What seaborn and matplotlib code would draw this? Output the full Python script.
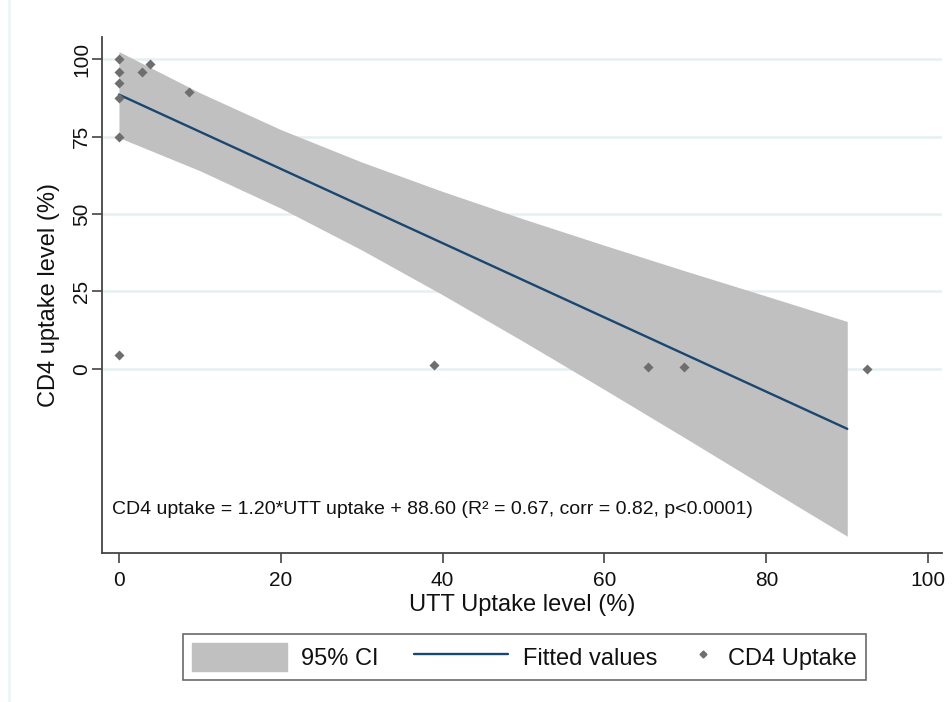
import numpy as np
import pandas as pd
import matplotlib
matplotlib.use("Agg")
import matplotlib.pyplot as plt
import seaborn as sns
from matplotlib.patches import Patch
from matplotlib.lines import Line2D
from matplotlib.legend_handler import HandlerLine2D

utt_uptake = [0.0, 0.0, 0.0, 0.0, 0.0, 2.8, 3.8, 8.7, 0.0, 38.9, 65.4, 69.8, 92.5]
cd4_uptake = [100.2, 95.9, 92.4, 87.6, 74.9, 96.0, 98.4, 89.5, 4.5, 1.3, 0.65, 0.65, 0.1]

# fitted line and 95% CI band, read at x = 0, 10, ..., 90
fit_x = [0, 10, 20, 30, 40, 50, 60, 70, 80, 90]
fit_y = [88.6, 76.6, 64.6, 52.6, 40.6, 28.6, 16.6, 4.6, -7.4, -19.4]
ci_upper = [102.5, 89.2, 77.3, 66.8, 57.3, 48.4, 39.9, 31.6, 23.5, 15.3]
ci_lower = [74.7, 64.0, 51.9, 38.4, 23.9, 8.8, -6.7, -22.4, -38.3, -54.1]

y_ticks = [0, 25, 50, 75, 100]
x_ticks = [0, 20, 40, 60, 80, 100]

note = "CD4 uptake = 1.20*UTT uptake + 88.60 (R\u00b2 = 0.67, corr = 0.82, p<0.0001)"

pts = pd.DataFrame({"utt": utt_uptake, "cd4": cd4_uptake})
fit = pd.DataFrame({"x": fit_x, "y": fit_y, "lo": ci_lower, "hi": ci_upper})

sns.set_style("white")
plt.rcParams["font.family"] = ["Liberation Sans", "DejaVu Sans"]

navy = "#1a476f"
band = "#c0c0c0"
mark = "#6e6e6e"
axc = "#444444"
txt = "#111111"


class NarrowMarker(HandlerLine2D):
    # the point key in the legend is much narrower than the other keys
    def legend_artist(self, legend, orig_handle, fontsize, handlebox):
        handlebox.width = 0.9 * fontsize
        return super().legend_artist(legend, orig_handle, fontsize, handlebox)


fig = plt.figure(figsize=(9.53, 7.02), dpi=100)
ax = fig.add_axes([0.1070, 0.2123, 0.8814, 0.7354])

for t in y_ticks:
    ax.axhline(t, color="#e6f0f2", lw=1.8, zorder=0)

ax.fill_between(fit["x"], fit["lo"], fit["hi"], color=band, lw=0, zorder=1)
sns.lineplot(data=fit, x="x", y="y", color=navy, lw=1.7, ax=ax, zorder=3)
sns.scatterplot(data=pts, x="utt", y="cd4", marker="D", s=26, color=mark,
                edgecolor=mark, linewidth=0, ax=ax, zorder=4)

ax.text(-0.9, -45.5, note, fontsize=14, color=txt, va="center", ha="left")

ax.set_xlim(-2.1, 101.7)
ax.set_ylim(-59.5, 107.3)
ax.set_xticks(x_ticks)
ax.set_yticks(y_ticks)
ax.tick_params(axis="both", bottom=True, left=True, direction="out", length=7.2,
               width=1.2, color=axc, labelsize=15, labelcolor=txt)
ax.tick_params(axis="x", pad=6)
ax.tick_params(axis="y", pad=0.5)
for lab in ax.get_yticklabels():
    lab.set_rotation(90)
    lab.set_va("center")

ax.set_xlabel("UTT Uptake level (%)", fontsize=17, color=txt, labelpad=3)
ax.set_ylabel("CD4 uptake level (%)", fontsize=17, color=txt)
ax.yaxis.set_label_coords(-0.05, 0.5)

for s in ["top", "right"]:
    ax.spines[s].set_visible(False)
for s in ["left", "bottom"]:
    ax.spines[s].set_color(axc)
    ax.spines[s].set_linewidth(1.3)

handles = [
    Patch(facecolor=band, edgecolor=band),
    Line2D([0], [0], color=navy, lw=1.7),
    Line2D([0], [0], marker="D", color="none", markerfacecolor=mark,
           markeredgecolor=mark, markersize=3.5),
]
labels = ["95% CI", "Fitted values", "CD4 Uptake"]
leg = fig.legend(handles, labels, loc="center", bbox_to_anchor=(0.5504, 0.0641),
                 ncol=3, fontsize=17, frameon=True, fancybox=False,
                 handlelength=4.0, handleheight=1.4, columnspacing=1.5,
                 handletextpad=0.6, borderpad=0.4, labelcolor=txt,
                 handler_map={handles[2]: NarrowMarker()})
leg.get_frame().set_edgecolor(axc)
leg.get_frame().set_linewidth(1.2)

# faint left edge of the graph region
fig.add_artist(Line2D([9 / 953, 9 / 953], [0, 1], transform=fig.transFigure,
                      color="#eef4f6", lw=2))

fig.savefig("out.png", dpi=100, facecolor="white")
